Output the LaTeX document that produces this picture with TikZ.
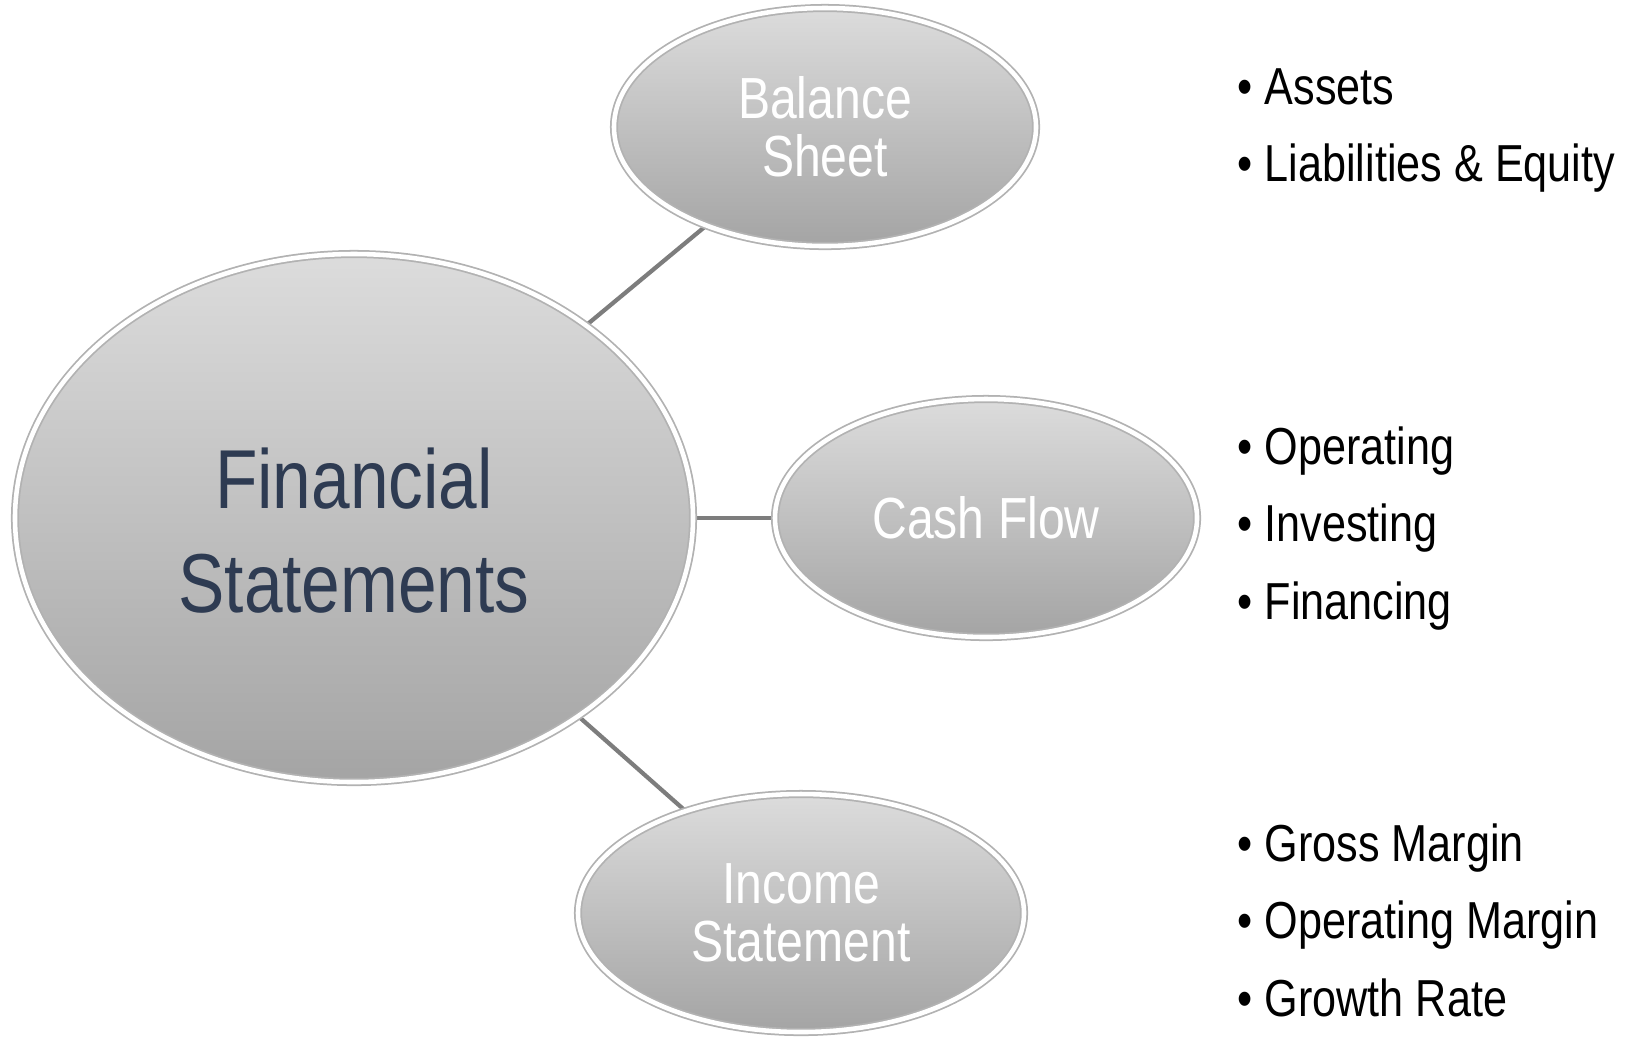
\documentclass[tikz,border=0pt]{standalone}
\usepackage{fontspec}
\setmainfont[FakeStretch=0.83]{Liberation Sans}
\usetikzlibrary{shapes.geometric}
\definecolor{bubbletop}{RGB}{220,220,220}
\definecolor{bubblebot}{RGB}{164,164,164}
\definecolor{rimgray}{RGB}{178,178,178}
\definecolor{linkgray}{RGB}{125,125,125}
\definecolor{finblue}{RGB}{46,59,82}
\begin{document}
\begin{tikzpicture}[
    bubble/.style={ellipse, inner sep=0pt, top color=bubbletop, bottom color=bubblebot,
        draw=rimgray, line width=0.5pt, double=white, double distance=1.3pt,
        align=center, text=white, font=\fontsize{16.5}{16.6}\selectfont},
    link/.style={draw=linkgray, line width=1.2pt},
    item/.style={anchor=base west, inner sep=0pt, font=\fontsize{14.8}{18}\selectfont}]
    \useasboundingbox (0,0) rectangle (16.26,-10.38);
    \draw[link] (3.54,-5.18) coordinate (fc) -- (8.25,-1.27) coordinate (bc);
    \draw[link] (fc) -- (9.86,-5.18) coordinate (cc);
    \draw[link] (fc) -- (8.01,-9.13) coordinate (ic);
    \node[bubble, minimum width=6.78cm, minimum height=5.28cm, text=finblue,
        font=\fontsize{23.8}{29.6}\selectfont] (fin) at (fc) {\rule{0pt}{24.5pt}Financial\\Statements};
    \node[bubble, minimum width=4.22cm, minimum height=2.38cm] (bal) at (bc) {Balance\\Sheet};
    \node[bubble, minimum width=4.22cm, minimum height=2.38cm] (cash) at (cc) {Cash Flow};
    \node[bubble, minimum width=4.46cm, minimum height=2.38cm] (inc) at (ic) {Income\\Statement};
    \node[item] (assets) at (12.37,-1.04) {\textbullet\ Assets};
    \node[item] (liab) at (12.37,-1.81) {\textbullet\ Liabilities \& Equity};
    \node[item] (oper) at (12.37,-4.64) {\textbullet\ Operating};
    \node[item] (inv) at (12.37,-5.41) {\textbullet\ Investing};
    \node[item] (finc) at (12.37,-6.19) {\textbullet\ Financing};
    \node[item] (gross) at (12.37,-8.61) {\textbullet\ Gross Margin};
    \node[item] (opmargin) at (12.37,-9.38) {\textbullet\ Operating Margin};
    \node[item] (growth) at (12.37,-10.16) {\textbullet\ Growth Rate};
\end{tikzpicture}
\end{document}
